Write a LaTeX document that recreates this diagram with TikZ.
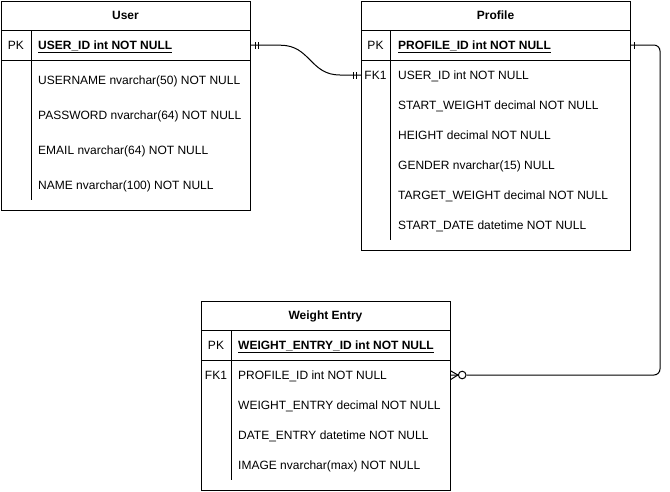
\documentclass[tikz,border=0pt]{standalone}
\usepackage{fontspec}
\setmainfont{Liberation Sans}
\begin{document}
\begin{tikzpicture}[x=1pt,y=-1pt,
  tbl/.style={draw=black, line width=1pt, fill=white},
  sep/.style={draw=black, line width=1pt},
  ttl/.style={font=\fontsize{12}{14}\selectfont\bfseries, inner sep=0pt, anchor=base, yshift=-4.3pt},
  key/.style={font=\fontsize{12}{14}\selectfont, inner sep=0pt, anchor=base, yshift=-4.3pt},
  fld/.style={font=\fontsize{12}{14}\selectfont, inner sep=0pt, anchor=base west, yshift=-4.3pt},
  pkf/.style={font=\fontsize{12}{14}\selectfont\bfseries, inner sep=0pt, anchor=base west, yshift=-4.3pt},
  rowbox/.style={inner sep=0pt, minimum height=30pt, anchor=north west},
  conn/.style={draw=black, line width=1pt},
  tick/.style={draw=black, line width=1pt}
]
\useasboundingbox (0,0) rectangle (670,491);

% ===== User =====
\draw[tbl] (1,1) rectangle (250,210);
\draw[sep] (1,30) -- (250,30);
\draw[sep] (1,60) -- (250,60);
\draw[sep] (31,30) -- (31,200);
\node[ttl] (utitle) at (125.5,15) {User};
\node[rowbox, minimum width=249pt] (upkrow) at (1,30) {};
\node[key] (upk) at (16,45) {PK};
\node[pkf] (uid) at (38,45) {\underline{USER\_ID int NOT NULL}};
\node[fld] (uname) at (38,80) {USERNAME nvarchar(50) NOT NULL};
\node[fld] (upass) at (38,115) {PASSWORD nvarchar(64) NOT NULL};
\node[fld] (umail) at (38,150) {EMAIL nvarchar(64) NOT NULL};
\node[fld] (unm) at (38,185) {NAME nvarchar(100) NOT NULL};

% ===== Profile =====
\draw[tbl] (361,1) rectangle (630,250);
\draw[sep] (361,30) -- (630,30);
\draw[sep] (361,60) -- (630,60);
\draw[sep] (390,30) -- (390,240);
\node[ttl] (ptitle) at (495.5,15) {Profile};
\node[rowbox, minimum width=269pt] (ppkrow) at (361,30) {};
\node[rowbox, minimum width=269pt] (pfkrow) at (361,60) {};
\node[key] (ppk) at (375.5,45) {PK};
\node[pkf] (pid) at (398,45) {\underline{PROFILE\_ID int NOT NULL}};
\node[key] (pfk) at (375.5,75) {FK1};
\node[fld] (puid) at (398,75) {USER\_ID int NOT NULL};
\node[fld] (psw) at (398,105) {START\_WEIGHT decimal NOT NULL};
\node[fld] (ph) at (398,135) {HEIGHT decimal NOT NULL};
\node[fld] (pg) at (398,165) {GENDER nvarchar(15) NULL};
\node[fld] (ptw) at (398,195) {TARGET\_WEIGHT decimal NOT NULL};
\node[fld] (psd) at (398,225) {START\_DATE datetime NOT NULL};

% ===== Weight Entry =====
\draw[tbl] (201,301) rectangle (450,490);
\draw[sep] (201,330) -- (450,330);
\draw[sep] (201,360) -- (450,360);
\draw[sep] (231,330) -- (231,480);
\node[ttl] (wtitle) at (325.5,315) {Weight Entry};
\node[rowbox, minimum width=249pt] (wfkrow) at (201,360) {};
\node[key] (wpk) at (216,345) {PK};
\node[pkf] (wid) at (238,345) {\underline{WEIGHT\_ENTRY\_ID int NOT NULL}};
\node[key] (wfk) at (216,375) {FK1};
\node[fld] (wpid) at (238,375) {PROFILE\_ID int NOT NULL};
\node[fld] (wwe) at (238,405) {WEIGHT\_ENTRY decimal NOT NULL};
\node[fld] (wde) at (238,435) {DATE\_ENTRY datetime NOT NULL};
\node[fld] (wimg) at (238,465) {IMAGE nvarchar(max) NOT NULL};

% ===== Connector User -> Profile =====
\draw[conn] (upkrow.east) -- ++(30,0) .. controls ++(30,0) and (310,75) .. (340,75) -- (pfkrow.west);
\draw[tick] ([xshift=5pt,yshift=-3.5pt]upkrow.east) -- ([xshift=5pt,yshift=3.5pt]upkrow.east);
\draw[tick] ([xshift=8pt,yshift=-3.5pt]upkrow.east) -- ([xshift=8pt,yshift=3.5pt]upkrow.east);
\draw[tick] ([xshift=-8pt,yshift=-3.5pt]pfkrow.west) -- ([xshift=-8pt,yshift=3.5pt]pfkrow.west);
\draw[tick] ([xshift=-5pt,yshift=-3.5pt]pfkrow.west) -- ([xshift=-5pt,yshift=3.5pt]pfkrow.west);

% ===== Connector Profile -> Weight Entry =====
\node[circle, draw=black, line width=1pt, inner sep=0pt, minimum size=7.6pt, fill=white] (zc) at (462.2,375) {};
\draw[conn, rounded corners=6pt] (ppkrow.east) -- (660,45) -- (660,375) -- (zc.east);
\draw[tick] ([xshift=4pt,yshift=-3.5pt]ppkrow.east) -- ([xshift=4pt,yshift=3.5pt]ppkrow.east);
\draw[tick] ([yshift=-4.5pt]wfkrow.east) -- (zc.west) -- ([yshift=4.5pt]wfkrow.east);
\draw[tick] (wfkrow.east) -- (zc.west);
\end{tikzpicture}
\end{document}
